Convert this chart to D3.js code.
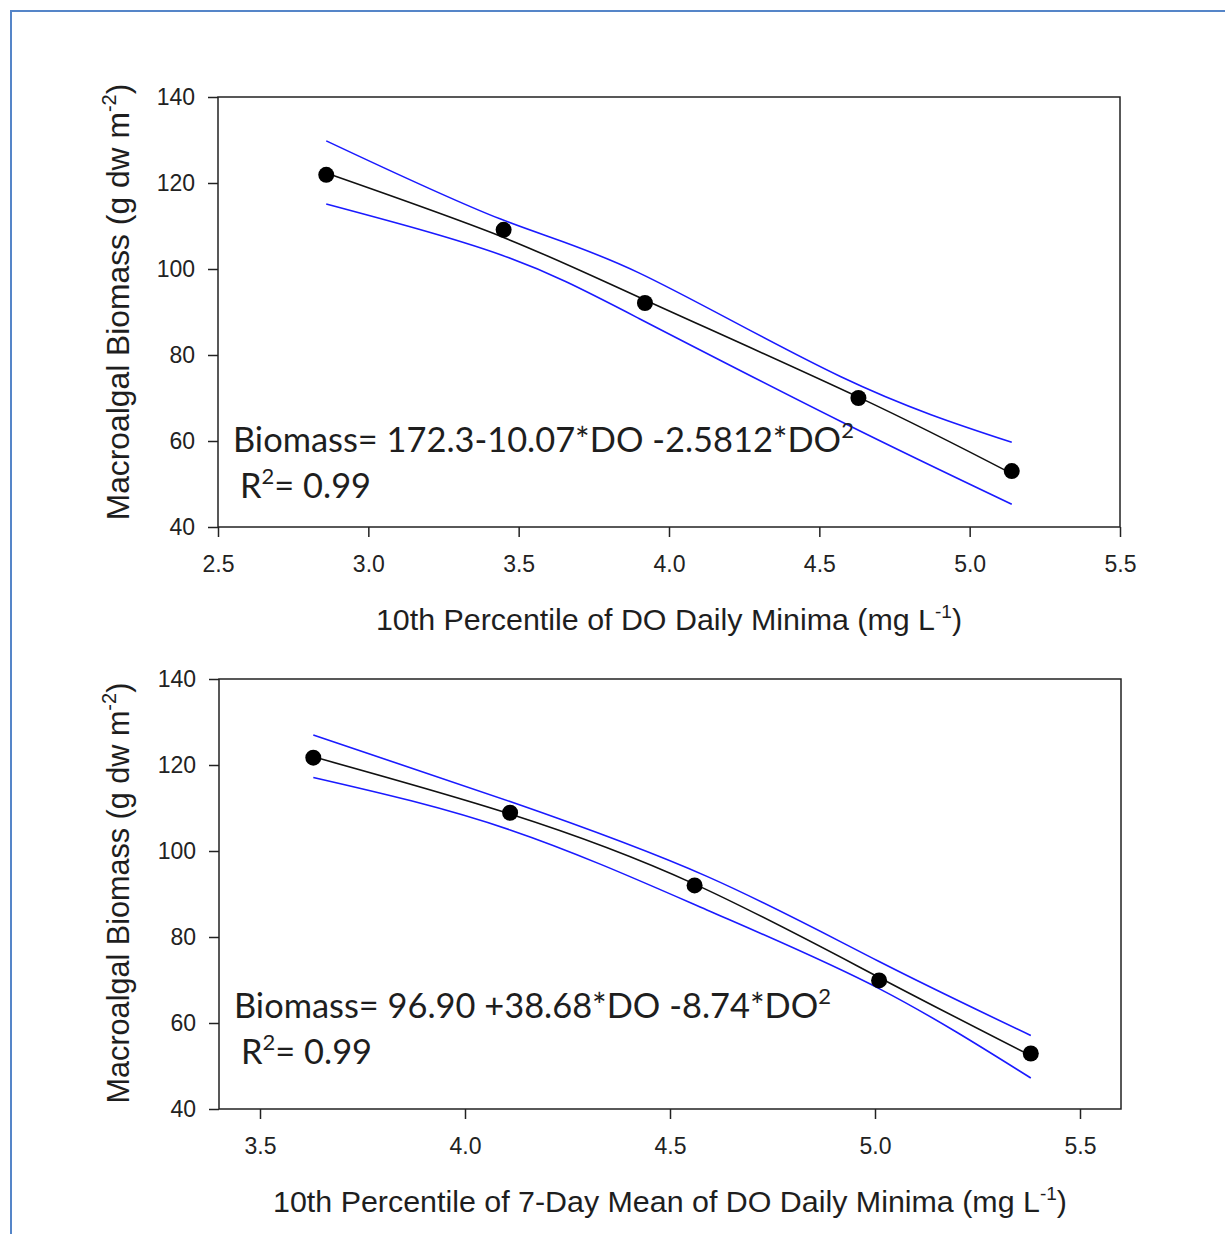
<!DOCTYPE html>
<html>
<head>
<meta charset="utf-8">
<script src="https://cdn.jsdelivr.net/npm/d3@7"></script>
<style>
  html, body { margin: 0; padding: 0; background: #fff; }
  svg { display: block; }
</style>
</head>
<body>
<div id="chart"></div>
<script>
// ---- data ----
// top panel: 10th percentile of DO daily minima
const topDO = [2.86, 3.45, 3.92, 4.63, 5.14];
const topBiomass = [121.9, 109.1, 92.1, 70.0, 53.0];
const topFitDO = [2.86, 3.44, 3.92, 4.63, 5.14];
const topFitBiomass = [122.3, 107.6, 92.8, 70.2, 52.4];
const topUpperDO = [2.86, 3.44, 3.90, 4.57, 5.14];
const topUpper = [129.8, 111.6, 99.1, 75.0, 59.7];
const topLowerDO = [2.86, 3.44, 3.90, 4.57, 5.14];
const topLower = [115.1, 103.3, 88.5, 64.6, 45.3];

// bottom panel: 10th percentile of 7-day mean of DO daily minima
const botDO = [3.63, 4.11, 4.56, 5.01, 5.38];
const botBiomass = [121.7, 108.9, 92.0, 69.9, 52.9];
const botFitDO = [3.63, 4.11, 4.56, 5.01, 5.38];
const botFitBiomass = [121.9, 108.6, 92.3, 70.6, 52.4];
const botUpperDO = [3.63, 4.11, 4.59, 5.01, 5.38];
const botUpper = [127.0, 111.5, 94.1, 74.3, 57.1];
const botLowerDO = [3.63, 4.11, 4.59, 5.01, 5.38];
const botLower = [117.1, 104.9, 86.3, 68.0, 47.2];

const yTicks = [40, 60, 80, 100, 120, 140];
const topXTicks = [2.5, 3.0, 3.5, 4.0, 4.5, 5.0, 5.5];
const botXTicks = [3.5, 4.0, 4.5, 5.0, 5.5];

const W = 1225, H = 1234;
const svg = d3.select("#chart").append("svg").attr("width", W).attr("height", H);

// page frame (only the top and left edges are in view)
svg.append("path")
    .attr("d", `M11,${H} L11,11 L${W},11`)
    .attr("fill", "none").attr("stroke", "#5585c8").attr("stroke-width", 2);

const zip = (xs, ys) => xs.map((x, i) => [x, ys[i]]);
const arial = "'Liberation Sans', Arial, sans-serif";

// text with a raised small superscript: parts = [[str, sup?], ...]
function richText(sel, parts, supSize, rise) {
    parts.forEach(([s, sup], i) => {
        const t = sel.append("tspan").text(s);
        if (sup) t.attr("font-size", supSize).attr("dy", -rise);
        else if (i > 0 && parts[i - 1][1]) t.attr("dy", rise);
    });
    return sel;
}

function panel(o) {
    const iw = o.w, ih = o.h;
    const g = svg.append("g").attr("transform", `translate(${o.left},${o.top})`);
    const x = d3.scaleLinear().domain(o.xDomain).range([0, iw]);
    const y = d3.scaleLinear().domain([40, 140]).range([ih, 0]);

    // axes
    const ax = g.append("g").attr("transform", `translate(0,${ih})`)
        .call(d3.axisBottom(x).tickValues(o.xTicks).tickFormat(d3.format(".1f"))
            .tickSize(10).tickPadding(19).tickSizeOuter(0));
    const ay = g.append("g")
        .call(d3.axisLeft(y).tickValues(yTicks).tickSize(10).tickPadding(13).tickSizeOuter(0));
    [ax, ay].forEach(a => {
        a.select(".domain").remove();
        a.selectAll("line").attr("stroke", "#222").attr("stroke-width", 1.5);
        a.selectAll("text").attr("fill", "#222").attr("font-size", 23).attr("font-family", arial);
    });
    g.append("rect").attr("width", iw).attr("height", ih)
        .attr("fill", "none").attr("stroke", "#222").attr("stroke-width", 1.5);

    const line = d3.line().x(d => x(d[0])).y(d => y(d[1])).curve(d3.curveNatural);

    g.append("path").datum(zip(o.upX, o.up)).attr("d", line)
        .attr("fill", "none").attr("stroke", "#1a1aff").attr("stroke-width", 1.6);
    g.append("path").datum(zip(o.loX, o.lo)).attr("d", line)
        .attr("fill", "none").attr("stroke", "#1a1aff").attr("stroke-width", 1.6);
    g.append("path").datum(zip(o.fitX, o.fit)).attr("d", line)
        .attr("fill", "none").attr("stroke", "#111").attr("stroke-width", 1.6);

    g.selectAll("circle.pt").data(zip(o.px, o.py)).enter().append("circle")
        .attr("class", "pt").attr("cx", d => x(d[0])).attr("cy", d => y(d[1]))
        .attr("r", 8).attr("fill", "#000");

    // equation
    const eq = g.append("g").attr("font-family", "Lato, 'Open Sans', sans-serif")
        .attr("font-size", 34.4).attr("fill", "#1e1e1e");
    richText(eq.append("text").attr("x", o.eqX).attr("y", o.eqY),
        [[o.eq, false], ["2", true]], 22, 14);
    richText(eq.append("text").attr("x", o.eqX + 7).attr("y", o.eqY + 46),
        [["R", false], ["2", true], ["= 0.99", false]], 22, 14);

    // axis titles
    richText(svg.append("text").attr("x", o.left + iw / 2).attr("y", o.xTitleY)
        .attr("text-anchor", "middle").attr("font-family", arial).attr("font-size", 30.4).attr("fill", "#1e1e1e"),
        [[o.xTitle + " (mg L", false], ["-1", true], [")", false]], 19, 12);

    richText(svg.append("text")
        .attr("transform", `translate(${o.yTitleX},${o.yTitleCy}) rotate(-90)`)
        .attr("text-anchor", "middle").attr("font-family", arial).attr("font-size", o.yTitleSize).attr("fill", "#1e1e1e"),
        [["Macroalgal Biomass (g dw m", false], ["-2", true], [")", false]], 20, 13);
}

panel({
    left: 218, top: 97, w: 902, h: 430, xDomain: [2.5, 5.5], xTicks: topXTicks,
    px: topDO, py: topBiomass, fitX: topFitDO, fit: topFitBiomass,
    upX: topUpperDO, up: topUpper, loX: topLowerDO, lo: topLower,
    eq: "Biomass= 172.3-10.07*DO -2.5812*DO", eqX: 15, eqY: 355,
    xTitle: "10th Percentile of DO Daily Minima", xTitleY: 630,
    yTitleX: 129, yTitleCy: 302, yTitleSize: 31.8
});

panel({
    left: 219, top: 679, w: 902, h: 430, xDomain: [3.4, 5.6], xTicks: botXTicks,
    px: botDO, py: botBiomass, fitX: botFitDO, fit: botFitBiomass,
    upX: botUpperDO, up: botUpper, loX: botLowerDO, lo: botLower,
    eq: "Biomass= 96.90 +38.68*DO -8.74*DO", eqX: 15, eqY: 339,
    xTitle: "10th Percentile of 7-Day Mean of DO Daily Minima", xTitleY: 1212,
    yTitleX: 129, yTitleCy: 893, yTitleSize: 30.6
});
</script>
</body>
</html>
